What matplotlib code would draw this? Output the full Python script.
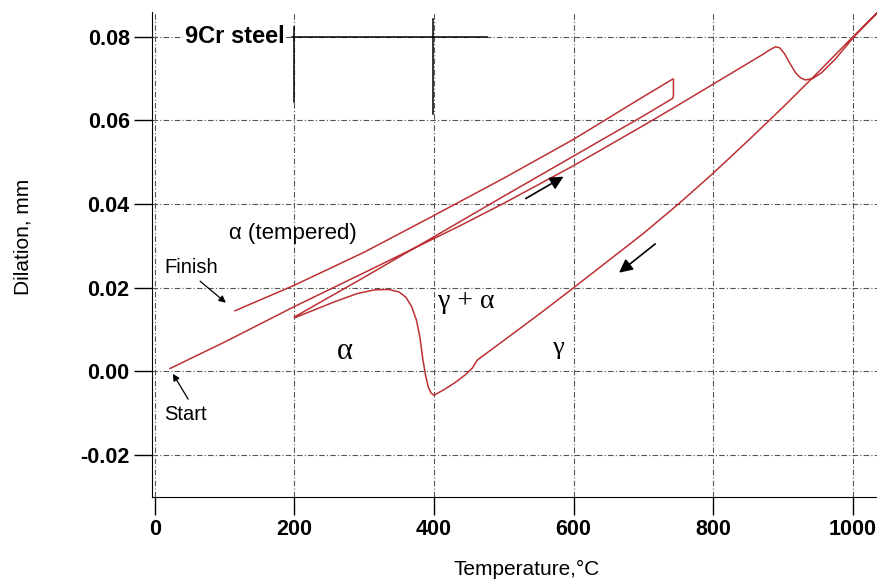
import numpy as np
import matplotlib
matplotlib.use("Agg")
import matplotlib.pyplot as plt

plt.rcParams["font.family"] = ["Liberation Sans", "DejaVu Sans"]

# first heating, room temperature -> 1040 C
heat_T = [22, 100, 200, 300, 437, 500, 600, 700, 745, 800, 850, 870, 882,
          889, 895, 902, 910, 918, 925, 932, 942, 955, 975, 1000, 1020, 1040]
heat_D = [0.0007, 0.0070, 0.0155, 0.0236, 0.0348, 0.0402, 0.0492, 0.0588,
          0.0632, 0.0687, 0.0737, 0.0757, 0.0770, 0.0776, 0.0774, 0.0760,
          0.0736, 0.0714, 0.0702, 0.0697, 0.0700, 0.0714, 0.0747, 0.0797,
          0.0832, 0.0866]

# cooling from gamma, transformation near 400 C, down to 200 C
cool_T = [1040, 1000, 950, 900, 850, 800, 750, 700, 650, 600, 550, 500, 462,
          455, 445, 430, 415, 400, 396, 392, 388, 384, 380, 375, 368, 360,
          350, 335, 315, 290, 260, 230, 200]
cool_D = [0.0866, 0.0800, 0.0715, 0.0632, 0.0552, 0.0474, 0.0400, 0.0330,
          0.0265, 0.0200, 0.0136, 0.0074, 0.0027, 0.0008, -0.0008, -0.0027,
          -0.0043, -0.0057, -0.0052, -0.0038, -0.0010, 0.0030, 0.0080, 0.0122,
          0.0155, 0.0177, 0.0190, 0.0196, 0.0195, 0.0186, 0.0168, 0.0148,
          0.0128]

# tempering: reheat to 745 C, hold, cool to finish
temper_T = [200, 300, 400, 500, 600, 700, 742, 743, 743, 742, 700, 600, 500,
            390, 300, 200, 115]
temper_D = [0.0130, 0.0225, 0.0322, 0.0419, 0.0515, 0.0611, 0.0653, 0.0660,
            0.0699, 0.0699, 0.0657, 0.0555, 0.0462, 0.0364, 0.0285, 0.0206,
            0.0145]

red = "#bd3033"
serif = ["Liberation Serif", "DejaVu Serif"]

fig = plt.figure(figsize=(8.78, 5.88), dpi=100)
ax = fig.add_axes([0.173, 0.155, 0.827, 0.825])

T = heat_T + cool_T + temper_T
D = heat_D + cool_D + temper_D
ax.plot(T, D, color=red, lw=1.1)

ax.set_xlim(-4, 1036)
ax.set_ylim(-0.030, 0.086)
ax.set_xticks([0, 200, 400, 600, 800, 1000])
ax.set_yticks([-0.02, 0.0, 0.02, 0.04, 0.06, 0.08])
ax.yaxis.set_major_formatter(matplotlib.ticker.FormatStrFormatter("%.2f"))
ax.tick_params(direction="out", length=13, width=1, labelsize=15.5, pad=3)
for lab in ax.get_xticklabels() + ax.get_yticklabels():
    lab.set_fontweight("bold")

ax.grid(True, color="#555555", lw=0.8, linestyle=(0, (5, 2, 1, 2)))
ax.spines["top"].set_visible(False)
ax.spines["right"].set_visible(False)

ax.set_xlabel("Temperature,°C", fontsize=15)
ax.set_ylabel("Dilation, mm", fontsize=15)
ax.xaxis.set_label_coords(0.516, -0.13)
ax.yaxis.set_label_coords(-0.164, 0.536)

# cursor-like black lines near the title
ax.plot([196, 476], [0.08, 0.08], color="black", lw=1.1)
ax.plot([200, 200], [0.0823, 0.0645], color="black", lw=1.1)
ax.plot([398, 398], [0.0842, 0.0615], color="black", lw=1.1)
ax.text(43, 0.0802, "9Cr steel", fontsize=17, fontweight="bold", va="center",
        ha="left", bbox=dict(fc="white", ec="none", pad=1))

ax.text(198, 0.0330, "α (tempered)", fontsize=16, ha="center", va="center")
ax.text(14, 0.0249, "Finish", fontsize=14.5, ha="left", va="center")
ax.text(14, -0.0103, "Start", fontsize=14.5, ha="left", va="center")
ax.text(272, 0.0048, "α", fontsize=22, ha="center", va="center",
        family=serif)
ax.text(446, 0.0167, "γ + α", fontsize=20, ha="center", va="center",
        family=serif)
ax.text(578, 0.0055, "γ", fontsize=19, ha="center", va="center",
        family=serif)

ax.annotate("", xy=(105, 0.016), xytext=(62, 0.022),
            arrowprops=dict(arrowstyle="-|>", color="black", lw=0.9,
                            mutation_scale=10))
ax.annotate("", xy=(24, 0.0), xytext=(50, -0.0072),
            arrowprops=dict(arrowstyle="-|>", color="black", lw=0.9,
                            mutation_scale=10))
ax.annotate("", xy=(589, 0.0469), xytext=(528, 0.041),
            arrowprops=dict(arrowstyle="-|>", color="black", lw=1.2,
                            mutation_scale=20))
ax.annotate("", xy=(662, 0.0232), xytext=(720, 0.0309),
            arrowprops=dict(arrowstyle="-|>", color="black", lw=1.2,
                            mutation_scale=20))

fig.savefig("out.png", dpi=100)
